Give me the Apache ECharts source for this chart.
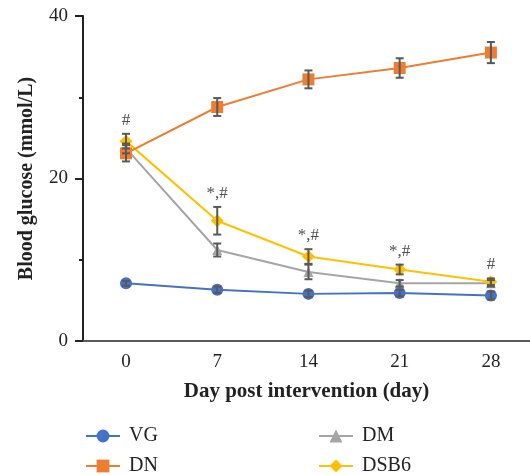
<!DOCTYPE html>
<html><head><meta charset="utf-8">
<script src="https://cdn.jsdelivr.net/npm/echarts@6/dist/echarts.min.js"></script>
<style>html,body{margin:0;padding:0;background:#fff}#c{width:530px;height:475px}</style>
</head><body><div id="c"></div>
<script>
const days = [0, 7, 14, 21, 28];
const vg = [7.1, 6.3, 5.8, 5.9, 5.6];
const vgErr = [0.3, 0.4, 0.4, 0.4, 0.5];
const dn = [23.1, 28.8, 32.2, 33.6, 35.5];
const dnErr = [1.0, 1.1, 1.1, 1.2, 1.3];
const dm = [23.7, 11.2, 8.5, 7.1, 7.1];
const dmErr = [0.6, 0.8, 0.9, 0.4, 0.4];
const dsb6 = [24.6, 14.8, 10.4, 8.8, 7.3];
const dsb6Err = [0.9, 1.7, 0.9, 0.6, 0.4];
const annotations = ['#', '*,#', '*,#', '*,#', '#'];

const FONT = '"Liberation Serif", "DejaVu Serif", serif';
const colors = {VG: '#4472C4', DN: '#ED7D31', DM: '#A5A5A5', DSB6: '#FFC000'};

function pts(vals) { return days.map((d, i) => [d, vals[i]]); }
function errData(vals, errs) { return days.map((d, i) => [d, vals[i], errs[i]]); }
function errSeries(vals, errs) {
  return {
    type: 'custom', z: 5, silent: true,
    data: errData(vals, errs),
    renderItem: function (params, api) {
      const x = api.value(0), m = api.value(1), e = api.value(2);
      const top = api.coord([x, m + e]);
      const bot = api.coord([x, m - e]);
      const cap = 4;
      const st = {stroke: '#595959', lineWidth: 2};
      return {type: 'group', children: [
        {type: 'line', shape: {x1: top[0], y1: top[1], x2: bot[0], y2: bot[1]}, style: st},
        {type: 'line', shape: {x1: top[0] - cap, y1: top[1], x2: top[0] + cap, y2: top[1]}, style: st},
        {type: 'line', shape: {x1: bot[0] - cap, y1: bot[1], x2: bot[0] + cap, y2: bot[1]}, style: st}
      ]};
    }
  };
}
function lineSeries(name, vals, symbol, size) {
  return {
    name: name, type: 'line', data: pts(vals), symbol: symbol, symbolSize: size,
    itemStyle: {color: colors[name]}, lineStyle: {color: colors[name], width: 2},
    z: 3
  };
}
function legendItem(name, left, top) {
  return {data: [name], left: left, top: top, padding: 0, itemWidth: 34, itemHeight: 16,
    textStyle: {fontFamily: FONT, fontSize: 20, color: '#222', lineHeight: 20, padding: [0, 0, 0, 4]}};
}

const chart = echarts.init(document.getElementById('c'), null, {renderer: 'canvas'});
chart.setOption({
  animation: false,
  backgroundColor: '#fff',
  grid: {left: 83, right: 0, top: 16, bottom: 134},
  xAxis: {
    type: 'value', min: -3.3, max: 31,
    splitLine: {show: false},
    axisLine: {onZero: false, lineStyle: {color: '#595959', width: 2}},
    axisTick: {show: false},
    axisLabel: {customValues: days, color: '#222', fontSize: 19, fontFamily: FONT, margin: 12},
    name: 'Day post intervention (day)', nameLocation: 'middle', nameGap: 40,
    nameTextStyle: {fontFamily: FONT, fontWeight: 'bold', fontSize: 21, color: '#222'}
  },
  yAxis: {
    type: 'value', min: 0, max: 40, interval: 20,
    splitLine: {show: false},
    axisLine: {show: true, onZero: false, lineStyle: {color: '#222', width: 2}},
    axisTick: {show: true, length: 8, lineStyle: {color: '#222', width: 2}},
    minorTick: {show: true, splitNumber: 2, length: 4, lineStyle: {color: '#222', width: 2}},
    axisLabel: {color: '#222', fontSize: 19, fontFamily: FONT, margin: 15},
    name: 'Blood glucose (mmol/L)', nameLocation: 'middle', nameGap: 46,
    nameTextStyle: {fontFamily: FONT, fontWeight: 'bold', fontSize: 20, color: '#222'}
  },
  legend: [
    legendItem('VG', 85, 426),
    legendItem('DN', 85, 456),
    legendItem('DM', 318, 426),
    legendItem('DSB6', 318, 456)
  ],
  series: [
    lineSeries('DM', dm, 'triangle', 10),
    lineSeries('DSB6', dsb6, 'diamond', 13),
    lineSeries('DN', dn, 'rect', 12),
    lineSeries('VG', vg, 'circle', 12),
    errSeries(vg, vgErr),
    errSeries(dn, dnErr),
    errSeries(dm, dmErr),
    errSeries(dsb6, dsb6Err),
    {
      type: 'scatter', symbolSize: 0, silent: true, z: 6,
      data: days.map((d, i) => ({value: [d, dsb6[i] + dsb6Err[i]], label: {formatter: annotations[i]}})),
      label: {show: true, position: 'top', distance: 5, fontFamily: FONT, fontSize: 17, color: '#222'}
    }
  ]
});
</script></body></html>
